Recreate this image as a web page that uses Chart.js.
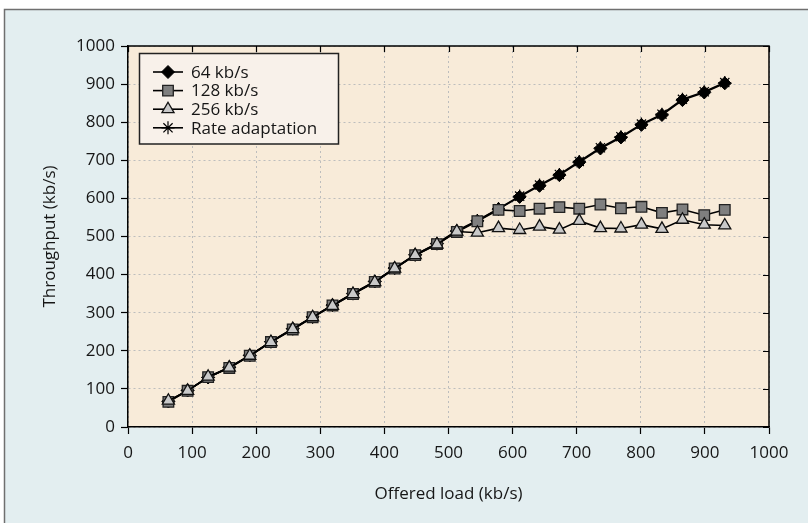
<!DOCTYPE html>
<html>
<head>
<meta charset="utf-8">
<script src="https://cdn.jsdelivr.net/npm/chart.js@4"></script>
<style>
  html, body { margin: 0; padding: 0; background: #fff; }
  #wrap { width: 808px; height: 523px; }
</style>
</head>
<body>
<div id="wrap"><canvas id="throughputChart" width="808" height="523"></canvas></div>
<script>
// offered load (kb/s), shared by all series
const offeredLoad = [63, 93, 125, 158, 190, 223, 257, 288, 319, 351, 385, 416, 448, 482, 513, 545, 578, 611, 642, 673, 704, 737, 769, 801, 833, 865, 899, 931];

const thr64 = [67, 96, 130, 157, 188, 224, 258, 289, 320, 350, 382, 417, 452, 481, 514, 541, 572, 604, 633, 661, 695, 731, 760, 793, 819, 858, 878, 902];
const thr128 = [66, 95, 131, 155, 187, 223, 256, 288, 319, 349, 381, 416, 451, 480, 512, 540, 570, 567, 573, 577, 573, 584, 574, 578, 562, 571, 556, 570];
const thr256 = [69, 95, 132, 156, 187, 223, 257, 288, 318, 349, 380, 416, 451, 479, 513, 510, 522, 517, 526, 518, 541, 522, 521, 531, 520, 544, 531, 529];
const thrRate = [68, 96, 130, 156, 188, 224, 258, 289, 320, 351, 382, 417, 452, 482, 515, 542, 573, 606, 635, 663, 697, 733, 762, 795, 821, 860, 880, 904];

const seriesLabels = ['64 kb/s', '128 kb/s', '256 kb/s', 'Rate adaptation'];
const xTicks = [0, 100, 200, 300, 400, 500, 600, 700, 800, 900, 1000];
const yTicks = [0, 100, 200, 300, 400, 500, 600, 700, 800, 900, 1000];

const FONT = '"Open Sans", "Noto Sans", sans-serif';
const INK = '#161616';

function toPoints(ys) {
    return offeredLoad.map((x, i) => ({ x: x, y: ys[i] }));
}

const datasets = [
    { label: seriesLabels[0], data: toPoints(thr64), pointStyle: 'rectRot', pointRadius: 6.5,
      pointBackgroundColor: '#000', pointBorderColor: '#000', pointBorderWidth: 1, order: 2 },
    { label: seriesLabels[1], data: toPoints(thr128), pointStyle: 'rect', pointRadius: 7.5,
      pointBackgroundColor: '#7f7f7f', pointBorderColor: '#222', pointBorderWidth: 1.3, order: 1 },
    { label: seriesLabels[2], data: toPoints(thr256), pointStyle: 'triangle', pointRadius: 7,
      pointBackgroundColor: '#c9c9c9', pointBorderColor: '#111', pointBorderWidth: 1.3, order: 0 },
    { label: seriesLabels[3], data: toPoints(thrRate), pointStyle: 'star', pointRadius: 6.5,
      pointBackgroundColor: '#000', pointBorderColor: '#000', pointBorderWidth: 1.2, order: 3 }
];
datasets.forEach(d => {
    d.borderColor = '#000';
    d.borderWidth = 1.6;
    d.tension = 0;
    d.fill = false;
    d.pointHoverRadius = d.pointRadius;
});

// backgrounds, frame with inward ticks on top/right, and the boxed legend
const decor = {
    id: 'decor',
    beforeDraw(chart) {
        const { ctx, chartArea: a } = chart;
        ctx.save();
        ctx.fillStyle = '#fff';
        ctx.fillRect(0, 0, chart.width, chart.height);
        ctx.fillStyle = '#e3eef0';
        ctx.fillRect(4.5, 9.5, chart.width, chart.height);
        ctx.strokeStyle = '#6f6f6f';
        ctx.lineWidth = 1.5;
        ctx.beginPath();
        ctx.moveTo(4.5, chart.height);
        ctx.lineTo(4.5, 9.5);
        ctx.lineTo(chart.width, 9.5);
        ctx.stroke();
        ctx.fillStyle = '#f8ebd9';
        ctx.fillRect(a.left, a.top, a.right - a.left, a.bottom - a.top);
        ctx.restore();
    },
    afterDraw(chart) {
        const { ctx, chartArea: a, scales } = chart;
        ctx.save();
        ctx.strokeStyle = '#000';
        ctx.lineWidth = 1.5;
        ctx.beginPath();
        ctx.moveTo(a.left, a.top);
        ctx.lineTo(a.right, a.top);
        ctx.lineTo(a.right, a.bottom);
        ctx.stroke();
        ctx.lineWidth = 1.2;
        ctx.beginPath();
        scales.x.ticks.forEach(t => {
            const px = Math.round(scales.x.getPixelForValue(t.value)) + 0.5;
            ctx.moveTo(px, a.top);
            ctx.lineTo(px, a.top + 6);
        });
        scales.y.ticks.forEach(t => {
            const py = Math.round(scales.y.getPixelForValue(t.value)) + 0.5;
            ctx.moveTo(a.right, py);
            ctx.lineTo(a.right - 6, py);
        });
        ctx.stroke();

        // legend
        const bx = 139.5, by = 53.5, bw = 199, bh = 90.5;
        ctx.fillStyle = '#f8f1ea';
        ctx.fillRect(bx, by, bw, bh);
        ctx.strokeStyle = '#222';
        ctx.lineWidth = 1.5;
        ctx.strokeRect(bx, by, bw, bh);
        ctx.font = '17px ' + FONT;
        ctx.textBaseline = 'middle';
        ctx.textAlign = 'left';
        chart.data.datasets.forEach((d, i) => {
            const y = 72 + i * 18.6;
            ctx.strokeStyle = '#000';
            ctx.lineWidth = 1.6;
            ctx.beginPath();
            ctx.moveTo(153, y);
            ctx.lineTo(183, y);
            ctx.stroke();
            ctx.fillStyle = d.pointBackgroundColor;
            ctx.strokeStyle = d.pointBorderColor;
            ctx.lineWidth = d.pointBorderWidth;
            Chart.helpers.drawPoint(ctx, {
                pointStyle: d.pointStyle, radius: d.pointRadius, rotation: 0, borderWidth: d.pointBorderWidth
            }, 168, y);
            ctx.fillStyle = INK;
            ctx.fillText(d.label, 191, y + 1);
        });
        ctx.restore();
    }
};

const ctx = document.getElementById('throughputChart').getContext('2d');

const throughputChart = new Chart(ctx, {
    type: 'line',
    data: { datasets: datasets },
    options: {
        responsive: false,
        animation: false,
        layout: { padding: { left: 0, top: 46, right: 39, bottom: 0 } },
        plugins: {
            legend: { display: false },
            tooltip: { enabled: false }
        },
        scales: {
            x: {
                type: 'linear',
                min: 0,
                max: 1000,
                afterBuildTicks: s => { s.ticks = xTicks.map(v => ({ value: v })); },
                afterFit: s => { s.height = 96; },
                ticks: { color: INK, font: { family: FONT, size: 17 }, padding: 9, maxRotation: 0,
                         callback: v => String(v) },
                grid: { color: '#bdbdbd', lineWidth: 1, tickLength: 7, tickColor: '#000', tickWidth: 1.2 },
                border: { color: '#000', width: 1.5, dash: [2, 3] },
                title: { display: true, text: 'Offered load (kb/s)', color: INK,
                         font: { family: FONT, size: 17 }, padding: { top: 0, bottom: 19 } }
            },
            y: {
                min: 0,
                max: 1000,
                afterBuildTicks: s => { s.ticks = yTicks.map(v => ({ value: v })); },
                afterFit: s => { s.width = 128; },
                ticks: { color: INK, font: { family: FONT, size: 17 }, padding: 6,
                         callback: v => String(v) },
                grid: { color: '#bdbdbd', lineWidth: 1, tickLength: 7, tickColor: '#000', tickWidth: 1.2 },
                border: { color: '#000', width: 1.5, dash: [2, 3] },
                title: { display: true, text: 'Throughput (kb/s)', color: INK,
                         font: { family: FONT, size: 17 }, padding: { top: 40, bottom: 0 } }
            }
        }
    },
    plugins: [decor]
});
</script>
</body>
</html>
